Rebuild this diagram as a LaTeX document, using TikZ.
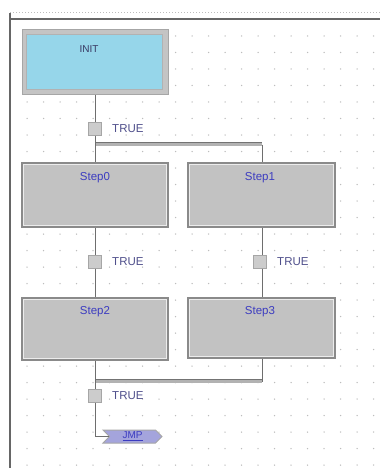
\documentclass[tikz,border=0pt]{standalone}
\usepackage{fontspec}
\setmainfont{Liberation Sans}
\usetikzlibrary{shapes.symbols}
\definecolor{stepfill}{HTML}{C2C2C2}
\definecolor{stepedge}{HTML}{8A8A8A}
\definecolor{initfill}{HTML}{96D6EA}
\definecolor{initframe}{HTML}{C4C4C4}
\definecolor{labblue}{HTML}{3C3CC0}
\definecolor{truec}{HTML}{50508C}
\definecolor{wirec}{HTML}{6E6E6E}
\definecolor{dotc}{HTML}{BDBDBD}
\definecolor{jmpfill}{HTML}{A4A4DC}
\begin{document}
\begin{tikzpicture}[x=1pt,y=-1pt,
  stepbox/.style={draw=stepedge,line width=1.4pt,fill=stepfill,minimum width=146pt,minimum height=64pt,inner sep=0pt},
  steplab/.style={text=labblue,font=\fontsize{11.5}{11.5}\selectfont},
  trans/.style={draw=gray!70,fill=gray!40,minimum size=13pt,inner sep=0pt},
  translab/.style={text=truec,font=\fontsize{11.5}{11.5}\selectfont,anchor=west},
  wire/.style={draw=wirec,line width=1pt},
  bar/.style={draw=gray!60,line width=3.5pt}]
\useasboundingbox (0,0) rectangle (380,468);
\fill[white] (0,0) rectangle (380,468);
% grid dots
\foreach \x in {27,43.5,...,378} {
  \foreach \y in {36,52.5,...,466} {
    \fill[dotc] (\x,\y) circle (0.75pt);
  }
}
% frame
\draw[dotc,dotted,line width=1pt] (10,13) -- (380,13);
\draw[gray!80!black,line width=1.8pt] (10,19) -- (380,19);
\draw[gray!80!black,line width=1.4pt] (10,13) -- (10,468);
% INIT step
\node[draw=gray!70,line width=1pt,fill=initframe,minimum width=146pt,minimum height=65pt,inner sep=0pt] (init) at (95,62.5) {};
\draw[draw=gray!60,fill=initfill] ([shift={(5,5)}]init.north west) rectangle ([shift={(-6,-6)}]init.south east);
\node[text=truec!70!black,font=\fontsize{10}{10}\selectfont] (initlab) at (89,49) {INIT};
% steps
\node[stepbox] (s0) at (95,195) {};
\node[stepbox,minimum width=147pt] (s1) at (261.5,195) {};
\node[stepbox,minimum height=62pt] (s2) at (95,329) {};
\node[stepbox,minimum width=147pt,minimum height=60pt] (s3) at (261.5,328) {};
\foreach \s in {s0,s1,s2,s3} {
  \draw[white!85!gray,line width=0.6pt] ([shift={(2,2)}]\s.north west) rectangle ([shift={(-2,-2)}]\s.south east);
}
\node[steplab] (l0) at (95,178) {Step0};
\node[steplab] (l1) at (260,178) {Step1};
\node[steplab] (l2) at (95,312) {Step2};
\node[steplab] (l3) at (260,312) {Step3};
% transitions
\node[trans] (t0) at (95,129) {};
\node[trans] (t1) at (95,262) {};
\node[trans] (t2) at (260,262) {};
\node[trans] (t3) at (95,396) {};
\node[translab] (tl0) at ([xshift=7pt]t0.east) {TRUE};
\node[translab] (tl1) at ([xshift=7pt]t1.east) {TRUE};
\node[translab] (tl2) at ([xshift=7pt]t2.east) {TRUE};
\node[translab] (tl3) at ([xshift=7pt]t3.east) {TRUE};
% bars
\coordinate (dL) at (95,144.5);
\coordinate (dR) at (262,144.5);
\coordinate (cL) at (95,381.5);
\coordinate (cR) at (262,381.5);
\draw[bar] (dL) -- (dR);
\draw[gray!90!black,line width=0.6pt] ([yshift=2pt]dL) -- ([yshift=2pt]dR);
\draw[bar] (cL) -- (cR);
\draw[gray!90!black,line width=0.6pt] ([yshift=2pt]cL) -- ([yshift=2pt]cR);
% wires
\draw[wire] (init.south) -- (t0);
\draw[wire] (t0) -- (dL);
\draw[wire] (dL) -- (s0.north);
\draw[wire] (dR) -- (s1.north -| dR);
\draw[wire] (s0.south) -- (t1);
\draw[wire] (t1) -- (s2.north);
\draw[wire] (s1.south -| dR) -- (t2.north -| dR);
\draw[wire] (t2.south -| dR) -- (s3.north -| dR);
\draw[wire] (s2.south) -- (cL);
\draw[wire] (s3.south -| cR) -- (cR);
\draw[wire] (cL) -- (t3);
% jump
\node[signal,signal to=east,signal from=west,draw=gray!70,line width=1pt,fill=jmpfill,minimum width=59pt,minimum height=13pt,inner sep=0pt,text=labblue,font=\fontsize{10}{10}\selectfont] (jmp) at (132.5,436.5) {\underline{JMP}};
\draw[wire] (t3) |- (jmp.west);
\end{tikzpicture}
\end{document}
